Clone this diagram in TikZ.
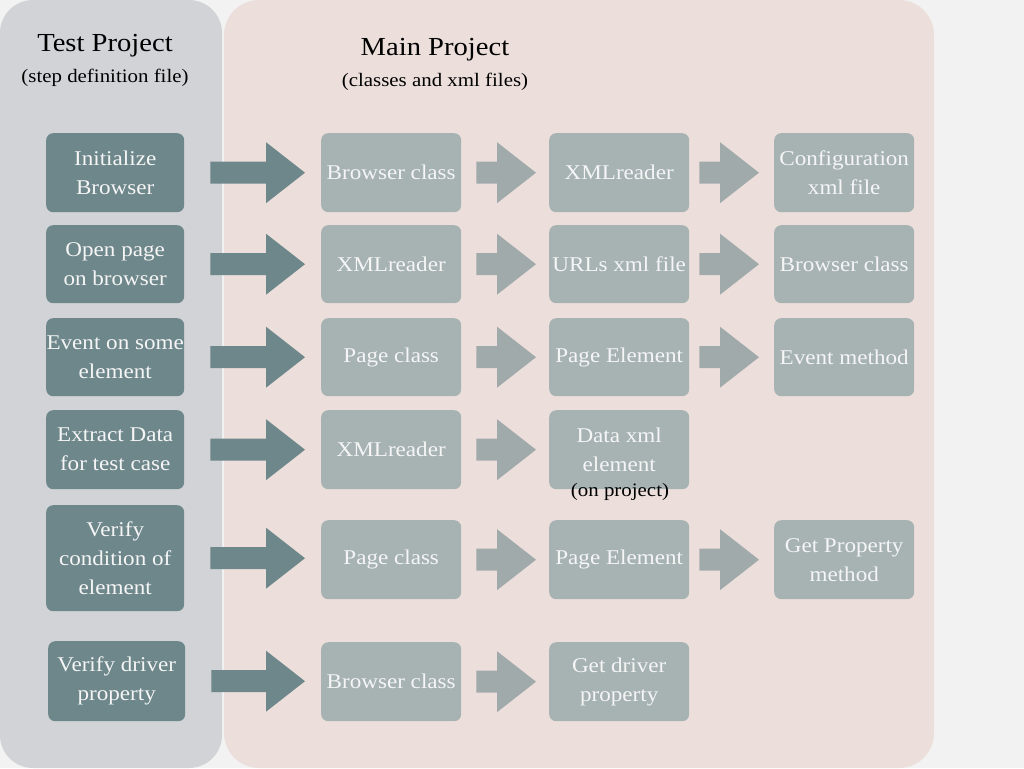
\documentclass[tikz,border=0pt]{standalone}
\usepackage{fontspec}
\setmainfont{Liberation Serif}[FakeStretch=1.1]
\usetikzlibrary{calc}
\definecolor{bgc}{HTML}{F2F2F2}
\definecolor{leftpanel}{HTML}{D1D3D6}
\definecolor{rightpanel}{HTML}{ECDFDB}
\definecolor{darkbox}{HTML}{6E878B}
\definecolor{lightbox}{HTML}{A7B3B3}
\definecolor{smallarrow}{HTML}{A1AAAB}
\definecolor{boxtext}{HTML}{F5F5F5}
\tikzset{
  x=1pt,y=-1pt,
  basebox/.style={rectangle, rounded corners=7pt, text=boxtext, align=center,
    font=\fontsize{21}{29}\selectfont, inner sep=0pt, anchor=north west},
  stepbox/.style={basebox, fill=darkbox},
  mainbox/.style={basebox, fill=lightbox, minimum width=140pt, minimum height=79pt},
  titletext/.style={font=\fontsize{26}{30}\selectfont, text=black},
  subtext/.style={font=\fontsize{19}{22}\selectfont, text=black},
}
% #1 colour, #2 from, #3 to, #4 start gap, #5 end gap
\newcommand\fatarrow[5]{%
  \fill[#1] let \p1=(#2.east), \p2=(#3.west) in
    (\x1+#4pt,\y1+11pt) -- (\x2-#5pt-39pt,\y1+11pt) -- (\x2-#5pt-39pt,\y1+30.5pt)
    -- (\x2-#5pt,\y1) -- (\x2-#5pt-39pt,\y1-30.5pt) -- (\x2-#5pt-39pt,\y1-11pt)
    -- (\x1+#4pt,\y1-11pt) -- cycle;}
\begin{document}
\begin{tikzpicture}
\useasboundingbox (0,0) rectangle (1024,768);
\fill[bgc] (0,0) rectangle (1024,768);
\fill[leftpanel, rounded corners=33pt] (0,0) rectangle (222,768);
\fill[rightpanel, rounded corners=35pt] (224,0) rectangle (934,768);

\node[titletext] (tp) at (105,46) {Test Project};
\node[subtext] (tps) at (105,78) {(step definition file)};
\node[titletext] (mp) at (435,50) {Main Project};
\node[subtext] (mps) at (435,82) {(classes and xml files)};

% left step boxes
\node[stepbox, minimum width=138pt, minimum height=79pt] (s1) at (46,133) {Initialize\\Browser};
\node[stepbox, minimum width=138pt, minimum height=78pt] (s2) at (46,225) {Open page\\on browser};
\node[stepbox, minimum width=138pt, minimum height=78pt] (s3) at (46,318) {Event on some\\element};
\node[stepbox, minimum width=138pt, minimum height=79pt] (s4) at (46,410) {Extract Data\\for test case};
\node[stepbox, minimum width=138pt, minimum height=106pt] (s5) at (46,505) {Verify\\condition of\\element};
\node[stepbox, minimum width=137pt, minimum height=80pt] (s6) at (48,641) {Verify driver\\property};

% main boxes
\node[mainbox] (a1) at (321,133) {Browser class};
\node[mainbox] (b1) at (549,133) {XMLreader};
\node[mainbox] (c1) at (774,133) {Configuration\\xml file};

\node[mainbox, minimum height=78pt] (a2) at (321,225) {XMLreader};
\node[mainbox, minimum height=78pt] (b2) at (549,225) {URLs xml file};
\node[mainbox, minimum height=78pt] (c2) at (774,225) {Browser class};

\node[mainbox, minimum height=78pt] (a3) at (321,318) {Page class};
\node[mainbox, minimum height=78pt] (b3) at (549,318) {Page Element};
\node[mainbox, minimum height=78pt] (c3) at (774,318) {Event method};

\node[mainbox] (a4) at (321,410) {XMLreader};
\node[mainbox] (b4) at (549,410) {Data xml\\element};
\node[subtext, anchor=center] (b4n) at (620,492) {(on project)};

\node[mainbox] (a5) at (321,520) {Page class};
\node[mainbox] (b5) at (549,520) {Page Element};
\node[mainbox] (c5) at (774,520) {Get Property\\method};

\node[mainbox] (a6) at (321,642) {Browser class};
\node[mainbox] (b6) at (549,642) {Get driver\\property};

% arrows
\foreach \r in {1,...,6}{\fatarrow{darkbox}{s\r}{a\r}{26}{16}}
\foreach \r in {1,...,6}{\fatarrow{smallarrow}{a\r}{b\r}{15}{13}}
\foreach \r in {1,2,3,5}{\fatarrow{smallarrow}{b\r}{c\r}{10}{15}}
\end{tikzpicture}
\end{document}
